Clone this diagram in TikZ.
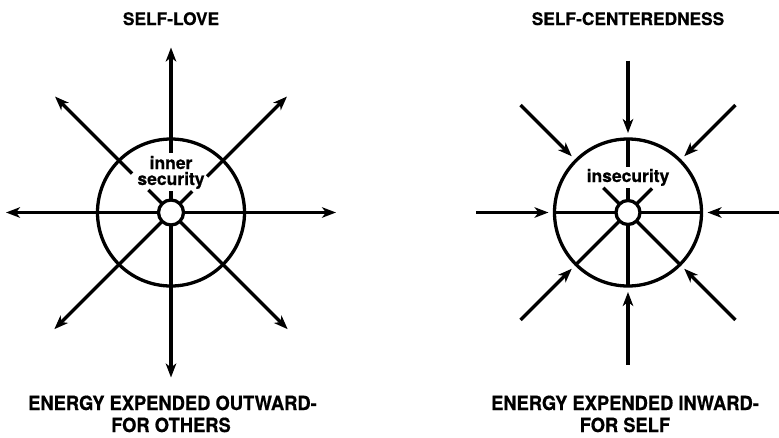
\documentclass[tikz,border=0pt]{standalone}
\usepackage{fontspec}
\setmainfont{TeX Gyre Heros}[BoldFeatures={FakeBold=0.6}]
\newfontfamily\condfont{TeX Gyre Heros}[FakeStretch=0.94,BoldFeatures={FakeBold=0.6}]
\usetikzlibrary{arrows.meta,calc}
\tikzset{
  ln/.style={line width=3.3pt,black},
  arr/.style={ln,-{Stealth[length=14pt,width=10.5pt,inset=4pt]}},
  lbl/.style={inner sep=0pt,anchor=base,font=\fontsize{17.5}{20}\selectfont\bfseries},
  ttl/.style={inner sep=0pt,anchor=base,font=\fontsize{17.3}{20}\selectfont\bfseries},
  captxt/.style={inner sep=0pt,anchor=base,font=\condfont\fontsize{19.5}{22}\selectfont\bfseries},
}
\begin{document}
\begin{tikzpicture}[x=1pt,y=-1pt]
\useasboundingbox (0,0) rectangle (779,437);
\coordinate (C1) at (171,212.5);
\coordinate (C2) at (628,212.5);
% ---------- titles ----------
\node[ttl] (t1) at (171,25) {SELF-LOVE};
\node[ttl] (t2) at (628,25) {SELF-CENTEREDNESS};
\node[captxt] (b1a) at (172.5,410) {ENERGY EXPENDED OUTWARD-};
\node[captxt] (b1b) at (171,432) {FOR OTHERS};
\node[captxt] (b2a) at (625,410) {ENERGY EXPENDED INWARD-};
\node[captxt] (b2b) at (625,432) {FOR SELF};
% ---------- left figure: self-love ----------
\draw[ln] (C1) circle[radius=73.5pt];
\draw[ln] (C1) circle[radius=12.5pt];
\foreach \a in {0,180,225,270,315}{
  \draw[arr] ($(C1)+(\a:12.5pt)$) -- ($(C1)+(\a:165pt)$);
}
% upper spokes interrupted by the label
\draw[arr] ($(C1)+(90:60pt)$) -- ($(C1)+(90:165pt)$);
\draw[ln] ($(C1)+(90:12.5pt)$) -- ($(C1)+(90:22pt)$);
\draw[arr] ($(C1)+(135:55pt)$) -- ($(C1)+(135:164pt)$);
\draw[ln] ($(C1)+(135:12.5pt)$) -- ($(C1)+(135:32pt)$);
\draw[arr] ($(C1)+(45:51pt)$) -- ($(C1)+(45:164pt)$);
\draw[ln] ($(C1)+(45:12.5pt)$) -- ($(C1)+(45:30pt)$);
\node[lbl] (inner) at (171,169) {inner};
\node[lbl] (sec) at (171,185) {security};
% ---------- right figure: self-centeredness ----------
\draw[ln] (C2) circle[radius=73.5pt];
\draw[ln] (C2) circle[radius=12pt];
\foreach \a in {0,180,225,270,315}{
  \draw[ln] ($(C2)+(\a:12pt)$) -- ($(C2)+(\a:73.5pt)$);
}
\draw[ln] ($(C2)+(90:46pt)$) -- ($(C2)+(90:73.5pt)$);
\draw[ln] ($(C2)+(90:12pt)$) -- ($(C2)+(90:25pt)$);
\draw[ln] ($(C2)+(135:12pt)$) -- ($(C2)+(135:35pt)$);
\draw[ln] ($(C2)+(45:12pt)$) -- ($(C2)+(45:34pt)$);
\foreach \a in {0,45,90,135,180,225,270,315}{
  \draw[arr] ($(C2)+(\a:152pt)$) -- ($(C2)+(\a:79.5pt)$);
}
\node[lbl] (insec) at (628,182) {insecurity};
\end{tikzpicture}
\end{document}
